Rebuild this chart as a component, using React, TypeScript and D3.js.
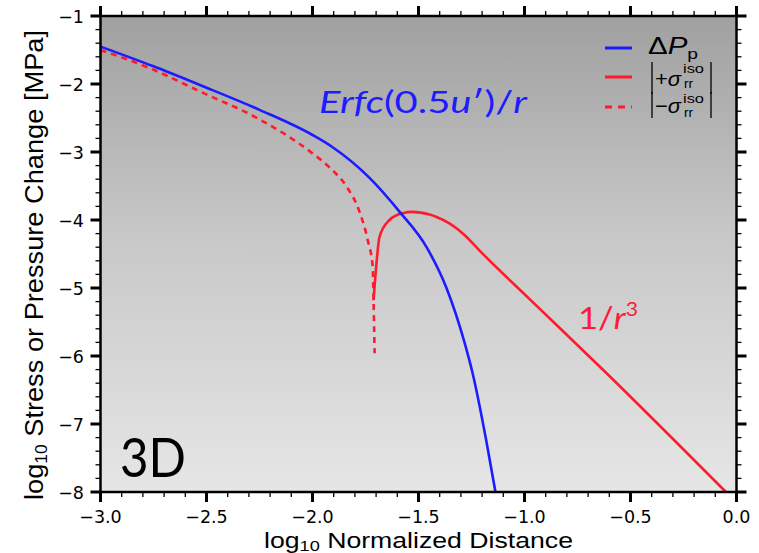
import React from "react";
import * as d3 from "d3";

// ---- data (log10 values) ----
const blueX = [-3.0, -2.75, -2.531, -2.25, -2.0, -1.905, -1.731, -1.589, -1.462, -1.368, -1.283, -1.245, -1.18, -1.137];
const blueY = [-1.45, -1.74, -2.015, -2.38, -2.75, -2.93, -3.38, -3.88, -4.40, -5.00, -5.80, -6.25, -7.25, -8.0];

const redX = [-1.712, -1.698, -1.684, -1.637, -1.575, -1.528, -1.448, -1.415, -1.354, -1.283, -1.212, -0.977, -0.614, -0.05];
const redY = [-5.18, -4.63, -4.25, -4.0, -3.90, -3.88, -3.92, -3.955, -4.05, -4.22, -4.45, -5.16, -6.25, -8.0];

const dashX = [-3.0, -2.75, -2.531, -2.25, -2.0, -1.919, -1.839, -1.778, -1.74, -1.716, -1.712, -1.707];
const dashY = [-1.50, -1.79, -2.11, -2.52, -3.02, -3.23, -3.51, -3.88, -4.29, -4.69, -5.18, -5.96];

const xTicks = [-3.0, -2.5, -2.0, -1.5, -1.0, -0.5, 0.0];
const xTickLabels = ["\u22123.0", "\u22122.5", "\u22122.0", "\u22121.5", "\u22121.0", "\u22120.5", "0.0"];
const yTicks = [-1, -2, -3, -4, -5, -6, -7, -8];
const yTickLabels = ["\u22121", "\u22122", "\u22123", "\u22124", "\u22125", "\u22126", "\u22127", "\u22128"];

const W = 759, H = 553;
const L = 100.5, R = 736.5, T = 16, B = 492;

export default function App() {
  const x = d3.scaleLinear().domain([-3, 0]).range([L, R]);
  const y = d3.scaleLinear().domain([-1, -8]).range([T, B]);

  const line = d3.line<[number, number]>()
    .x(d => x(d[0])).y(d => y(d[1]))
    .curve(d3.curveMonotoneX);

  const bluePts = blueX.map((v, i) => [v, blueY[i]] as [number, number]);
  const redPts = redX.map((v, i) => [v, redY[i]] as [number, number]);
  const dashPts = dashX.map((v, i) => [v, dashY[i]] as [number, number]);

  const xMinor = d3.range(-3, 0.0001, 0.1).filter(v => Math.abs(v * 2 - Math.round(v * 2)) > 1e-6);
  const yMinor = d3.range(-8, -0.9999, 0.2).filter(v => Math.abs(v - Math.round(v)) > 1e-6);

  const axisFont = "'Liberation Sans', Arial, Helvetica, sans-serif";
  const tickFont = "'DejaVu Sans', 'Liberation Sans', sans-serif";
  const annFont = "Lato, 'Open Sans', sans-serif";
  const red = "#ff1a2e";
  const blue = "#1c1cff";

  return (
    <svg width={W} height={H} style={{ position: "absolute", left: 0, top: 0, background: "#fff" }}>
      <defs>
        <linearGradient id="bg" x1="0" y1="0" x2="0" y2="1">
          <stop offset="0%" stopColor="#a0a0a0" />
          <stop offset="45%" stopColor="#c7c7c7" />
          <stop offset="100%" stopColor="#e6e6e6" />
        </linearGradient>
        <clipPath id="clip">
          <rect x={L} y={T} width={R - L} height={B - T} />
        </clipPath>
      </defs>
      <rect x={L} y={T} width={R - L} height={B - T} fill="url(#bg)" />

      <g clipPath="url(#clip)" fill="none">
        <path d={line(dashPts) || ""} stroke={red} strokeWidth={2.6} strokeDasharray="6,5" />
        <path d={line(redPts) || ""} stroke={red} strokeWidth={2.6} />
        <path d={line(bluePts) || ""} stroke={blue} strokeWidth={2.6} />
      </g>

      {/* frame */}
      <rect x={L} y={T} width={R - L} height={B - T} fill="none" stroke="#000" strokeWidth={2.5} />

      {/* x ticks bottom & top */}
      {xTicks.map(v => (
        <g key={"xt" + v}>
          <line x1={x(v)} x2={x(v)} y1={B} y2={B + 10} stroke="#000" strokeWidth={3} />
          <line x1={x(v)} x2={x(v)} y1={T} y2={T - 10} stroke="#000" strokeWidth={3} />
        </g>
      ))}
      {xMinor.map(v => (
        <g key={"xm" + v}>
          <line x1={x(v)} x2={x(v)} y1={B} y2={B + 5} stroke="#000" strokeWidth={1.3} />
          <line x1={x(v)} x2={x(v)} y1={T} y2={T - 5} stroke="#000" strokeWidth={1.3} />
        </g>
      ))}
      {xTicks.map((v, i) => (
        <text key={"xl" + v} x={x(v)} y={B + 31} textAnchor="middle" fontFamily={tickFont} fontSize={17.5} fill="#000">
          {xTickLabels[i]}
        </text>
      ))}

      {/* y ticks left & right */}
      {yTicks.map(v => (
        <g key={"yt" + v}>
          <line x1={L} x2={L - 10} y1={y(v)} y2={y(v)} stroke="#000" strokeWidth={3} />
          <line x1={R} x2={R + 10} y1={y(v)} y2={y(v)} stroke="#000" strokeWidth={3} />
        </g>
      ))}
      {yMinor.map(v => (
        <g key={"ym" + v}>
          <line x1={L} x2={L - 5} y1={y(v)} y2={y(v)} stroke="#000" strokeWidth={1.3} />
          <line x1={R} x2={R + 5} y1={y(v)} y2={y(v)} stroke="#000" strokeWidth={1.3} />
        </g>
      ))}
      {yTicks.map((v, i) => (
        <text key={"yl" + v} x={84} y={y(v) + 6.5} textAnchor="end" fontFamily={tickFont} fontSize={17.5} fill="#000">
          {yTickLabels[i]}
        </text>
      ))}

      {/* axis titles */}
      <text x={264} y={547.5} fontFamily={axisFont} fontSize={22} fill="#000" textLength={309} lengthAdjust="spacingAndGlyphs">
        log<tspan fontSize={15} dy={3}>10</tspan><tspan dy={-3}> Normalized Distance</tspan>
      </text>
      <text transform="translate(43,500) rotate(-90)" fontFamily={axisFont} fontSize={25} fill="#000" textLength={470} lengthAdjust="spacingAndGlyphs">
        log<tspan fontSize={16} dy={4}>10</tspan><tspan dy={-4}> Stress or Pressure Change [MPa]</tspan>
      </text>

      {/* annotations */}
      <text x={319} y={113} fontFamily={annFont} fontSize={31} fill={blue} textLength={208} lengthAdjust="spacingAndGlyphs">
        <tspan fontStyle="italic">Erfc</tspan>(0.5<tspan fontStyle="italic">u</tspan>′)/<tspan fontStyle="italic">r</tspan>
      </text>
      <text x={578} y={329} fontFamily={annFont} fontSize={31} fill="#ff1a3a" textLength={60} lengthAdjust="spacingAndGlyphs">
        1/<tspan fontStyle="italic">r</tspan><tspan fontSize={19} dy={-13}>3</tspan>
      </text>
      <text x={120} y={477} fontFamily={annFont} fontSize={54} fill="#000" textLength={66} lengthAdjust="spacingAndGlyphs">3D</text>

      {/* legend */}
      <line x1={605} x2={632} y1={48} y2={48} stroke={blue} strokeWidth={3} />
      <line x1={605} x2={632} y1={77} y2={77} stroke={red} strokeWidth={3} />
      <line x1={605} x2={632} y1={107} y2={107} stroke={red} strokeWidth={3} strokeDasharray="7,6" />

      <text x={648} y={54} fontFamily={axisFont} fontSize={23} fill="#000" textLength={50} lengthAdjust="spacingAndGlyphs">
        Δ<tspan fontStyle="italic">P</tspan><tspan fontSize={15} dy={5}>p</tspan>
      </text>

      {/* |+σ_rr^iso| */}
      <line x1={652} x2={652} y1={62} y2={94} stroke="#000" strokeWidth={1.3} />
      <text x={655} y={86} fontFamily={axisFont} fontSize={21} fill="#000" textLength={26} lengthAdjust="spacingAndGlyphs">
        +<tspan fontStyle="italic">σ</tspan>
      </text>
      <text x={683} y={73} fontFamily={axisFont} fontSize={13.5} fill="#000" textLength={21} lengthAdjust="spacingAndGlyphs">iso</text>
      <text x={684} y={88} fontFamily={axisFont} fontSize={13.5} fill="#000">rr</text>
      <line x1={711} x2={711} y1={62} y2={94} stroke="#000" strokeWidth={1.3} />

      {/* |−σ_rr^iso| */}
      <line x1={652} x2={652} y1={92} y2={118} stroke="#000" strokeWidth={1.3} />
      <text x={655} y={113} fontFamily={axisFont} fontSize={21} fill="#000" textLength={26} lengthAdjust="spacingAndGlyphs">
        −<tspan fontStyle="italic">σ</tspan>
      </text>
      <text x={683} y={103} fontFamily={axisFont} fontSize={13.5} fill="#000" textLength={21} lengthAdjust="spacingAndGlyphs">iso</text>
      <text x={684} y={117} fontFamily={axisFont} fontSize={13.5} fill="#000">rr</text>
      <line x1={711} x2={711} y1={92} y2={118} stroke="#000" strokeWidth={1.3} />
    </svg>
  );
}
